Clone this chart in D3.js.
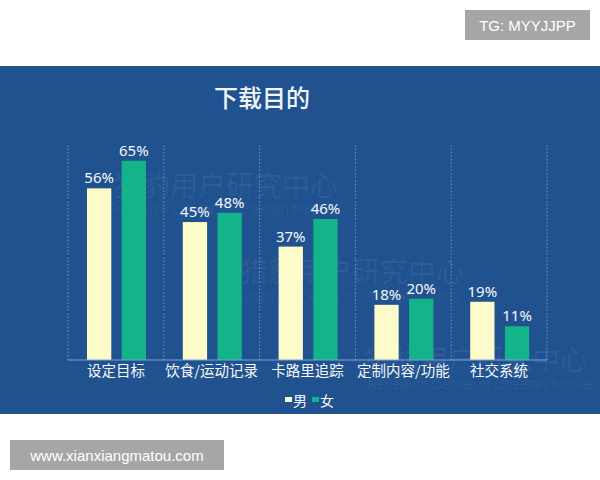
<!DOCTYPE html>
<html>
<head>
<meta charset="utf-8">
<script src="https://cdn.jsdelivr.net/npm/d3@7"></script>
<style>
html,body{margin:0;padding:0;background:#fff;}
svg{display:block;}
</style>
</head>
<body>
<script>
const categories = ["设定目标", "饮食/运动记录", "卡路里追踪", "定制内容/功能", "社交系统"];
const seriesNames = ["男", "女"];
const maleValues = [56, 45, 37, 18, 19];
const femaleValues = [65, 48, 46, 20, 11];
const title = "下载目的";
const colors = ["#fdfbc9", "#14b48a"];

const W = 600, H = 480;
const svg = d3.select("body").append("svg").attr("width", W).attr("height", H);

// top-right tag
svg.append("rect").attr("x", 465).attr("y", 10).attr("width", 125).attr("height", 30).attr("fill", "#a6a6a6");
svg.append("text").attr("x", 527.5).attr("y", 31).attr("text-anchor", "middle")
  .attr("font-family", "Liberation Sans, Arial, sans-serif").attr("font-size", 15).attr("fill", "#fff")
  .text("TG: MYYJJPP");

// blue panel
svg.append("rect").attr("x", 0).attr("y", 66).attr("width", W).attr("height", 348).attr("fill", "#20528f");

// watermarks (faint)
const wm = svg.append("g").attr("fill", "#ffffff").attr("fill-opacity", 0.06)
  .attr("font-family", "Noto Sans CJK SC, sans-serif");
[[114, 196, 108, 214], [240, 282, 234, 302], [364, 370, 367, 389]].forEach(([x, y, ex, ey]) => {
  wm.append("text").attr("x", x).attr("y", y).attr("font-size", 28).text("猎豹用户研究中心");
  wm.append("text").attr("x", ex).attr("y", ey).attr("font-size", 14)
    .attr("textLength", 226).attr("lengthAdjust", "spacingAndGlyphs")
    .attr("font-family", "Liberation Sans, Arial, sans-serif").text("Research Center of Cheetah Mobile");
});

// title
svg.append("text").attr("x", 262).attr("y", 107).attr("text-anchor", "middle")
  .attr("font-family", "Noto Sans CJK SC, sans-serif").attr("font-size", 24).attr("font-weight", 500)
  .attr("fill", "#f2f5f9").text(title);

// scales
const x = d3.scaleBand().domain(categories).range([68, 547]).paddingInner(0).paddingOuter(0);
const xs = d3.scaleBand().domain(seriesNames).range([19, 78]).paddingInner(0.3);
const y = d3.scaleLinear().domain([0, 100]).range([360, 53.5]);

// dotted gridlines at band edges
const edges = categories.map(c => x(c)).concat([x.range()[1]]);
svg.append("g").selectAll("line").data(edges).join("line")
  .attr("x1", d => d).attr("x2", d => d).attr("y1", 145).attr("y2", 360)
  .attr("stroke", "#6f95c8").attr("stroke-width", 1).attr("stroke-dasharray", "1.5,2");

const data = categories.map((c, i) => ({cat: c, vals: [maleValues[i], femaleValues[i]]}));

const groups = svg.append("g").selectAll("g").data(data).join("g")
  .attr("transform", d => `translate(${x(d.cat)},0)`);

groups.selectAll("rect").data(d => d.vals.map((v, j) => ({s: seriesNames[j], v, j}))).join("rect")
  .attr("x", d => xs(d.s)).attr("width", xs.bandwidth())
  .attr("y", d => y(d.v)).attr("height", d => y(0) - y(d.v))
  .attr("fill", d => colors[d.j]);

groups.selectAll("text.val").data(d => d.vals.map((v, j) => ({s: seriesNames[j], v, j}))).join("text")
  .attr("class", "val")
  .attr("x", d => xs(d.s) + xs.bandwidth() / 2).attr("y", d => y(d.v) - 5)
  .attr("text-anchor", "middle").attr("font-family", "Noto Sans, sans-serif").attr("font-size", 15)
  .attr("fill", "#f7f8fb").text(d => d.v + "%");

// axis
const xAxis = d3.axisBottom(x).tickSize(0).tickPadding(0);
const ax = svg.append("g").attr("transform", "translate(0,360)").call(xAxis);
ax.select(".domain").attr("stroke", "#7aa5dc").attr("stroke-width", 1.2).attr("d", "M68,0H547");
ax.selectAll("text").attr("dy", null).attr("y", 16)
  .attr("font-family", "Noto Sans CJK SC, sans-serif").attr("font-size", 14.5).attr("fill", "#f7f8fb");

// legend
const lg = svg.append("g").attr("font-family", "Noto Sans CJK SC, sans-serif").attr("font-size", 14).attr("fill", "#f7f8fb");
const lx = [285, 312];
seriesNames.forEach((s, j) => {
  lg.append("rect").attr("x", lx[j]).attr("y", 397).attr("width", 7).attr("height", 5).attr("fill", colors[j]);
  lg.append("text").attr("x", lx[j] + 8).attr("y", 406).text(s);
});

// bottom-left tag
svg.append("rect").attr("x", 10).attr("y", 440).attr("width", 214).attr("height", 30).attr("fill", "#a6a6a6");
svg.append("text").attr("x", 117).attr("y", 461).attr("text-anchor", "middle")
  .attr("font-family", "Liberation Sans, Arial, sans-serif").attr("font-size", 15).attr("fill", "#fff")
  .text("www.xianxiangmatou.com");
</script>
</body>
</html>
